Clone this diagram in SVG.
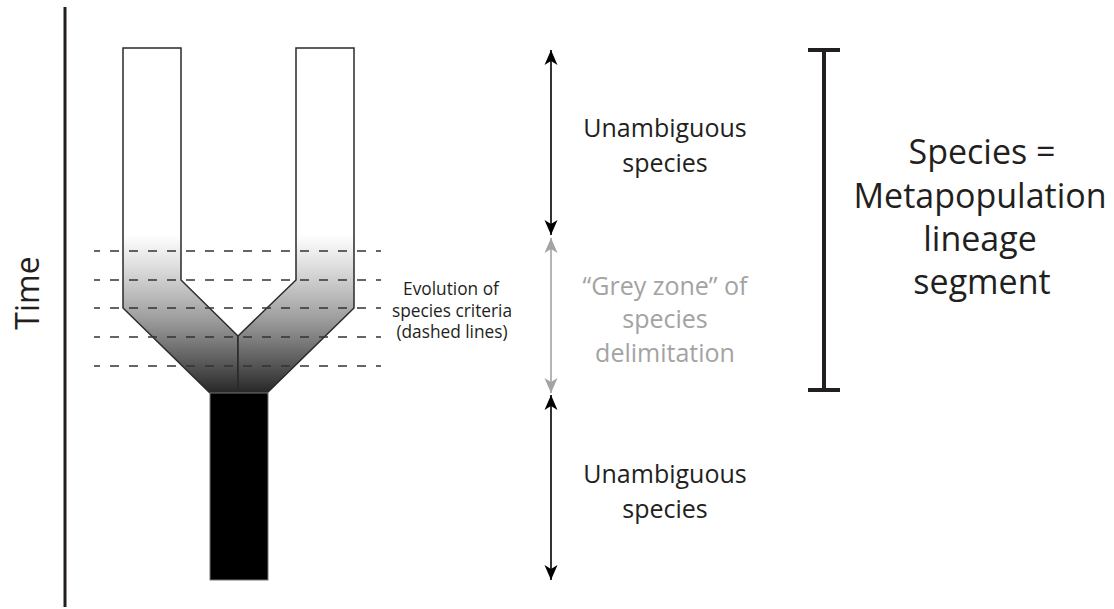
<svg xmlns="http://www.w3.org/2000/svg" width="1114" height="609" viewBox="0 0 1114 609">
  <style>
    .lbl { font-family: "Open Sans", "Noto Sans", sans-serif; fill: #231f20; text-anchor: middle; }
    .grey { fill: #a3a3a3; }
    .branch { fill: url(#shade); stroke: #2a2a2a; stroke-width: 1.5; stroke-linejoin: miter; }
    .dash { stroke: #333; stroke-width: 1.4; stroke-dasharray: 9 10; fill: none; }
  </style>
  <defs>
    <linearGradient id="shade" gradientUnits="userSpaceOnUse" x1="0" y1="234" x2="0" y2="393">
      <stop offset="0" stop-color="#ffffff"/>
      <stop offset="0.17" stop-color="#e4e4e4"/>
      <stop offset="0.35" stop-color="#c2c2c2"/>
      <stop offset="0.54" stop-color="#9c9c9c"/>
      <stop offset="0.72" stop-color="#707070"/>
      <stop offset="0.88" stop-color="#474747"/>
      <stop offset="1" stop-color="#262626"/>
    </linearGradient>
    <marker id="ahB" markerUnits="userSpaceOnUse" markerWidth="16" markerHeight="14" viewBox="0 -7 16 14" refX="15" refY="0" orient="auto-start-reverse">
      <path d="M0,-6.5 L15,0 L0,6.5 L4,0 Z" fill="#000"/>
    </marker>
    <marker id="ahG" markerUnits="userSpaceOnUse" markerWidth="16" markerHeight="14" viewBox="0 -7 16 14" refX="15" refY="0" orient="auto-start-reverse">
      <path d="M0,-6.5 L15,0 L0,6.5 L4,0 Z" fill="#a3a3a3"/>
    </marker>
  </defs>

  <g id="time-axis">
    <line x1="65" y1="7" x2="65" y2="607" stroke="#231f20" stroke-width="3"/>
    <text class="lbl" font-size="32" transform="translate(39,293) rotate(-90)" x="0" y="0">Time</text>
  </g>

  <g id="tree">
    <path id="left-branch" class="branch" d="M123,48 H181 V280 L238,336 V393 H210 L123,308 Z"/>
    <path id="right-branch" class="branch" d="M296,48 H354 V308 L267,393 H238 V336 L296,280 Z"/>
    <rect id="trunk" x="210" y="393" width="58" height="187" fill="#000" stroke="#777" stroke-width="1"/>
  </g>

  <g id="criteria-lines">
    <line class="dash" x1="94" y1="251" x2="381" y2="251" stroke-dashoffset="3"/>
    <line class="dash" x1="94" y1="280" x2="381" y2="280" stroke-dashoffset="3"/>
    <line class="dash" x1="94" y1="308" x2="381" y2="308" stroke-dashoffset="3"/>
    <line class="dash" x1="94" y1="337" x2="381" y2="337" stroke-dashoffset="3"/>
    <line class="dash" x1="94" y1="366" x2="381" y2="366" stroke-dashoffset="3"/>
  </g>

  <g id="criteria-label">
    <text class="lbl" font-size="17.3" x="451" y="295">Evolution of</text>
    <text class="lbl" font-size="17.3" x="452" y="317">species criteria</text>
    <text class="lbl" font-size="17.3" x="452" y="338">(dashed lines)</text>
  </g>

  <g id="connectors">
    <line x1="551" y1="50" x2="551" y2="235" stroke="#000" stroke-width="1.6" marker-start="url(#ahB)" marker-end="url(#ahB)"/>
    <line x1="551" y1="238" x2="551" y2="393" stroke="#a3a3a3" stroke-width="1.6" marker-start="url(#ahG)" marker-end="url(#ahG)"/>
    <line x1="551" y1="395" x2="551" y2="580" stroke="#000" stroke-width="1.6" marker-start="url(#ahB)" marker-end="url(#ahB)"/>
  </g>

  <g id="top-species">
    <text class="lbl" font-size="25" x="665" y="137">Unambiguous</text>
    <text class="lbl" font-size="25" x="665" y="172">species</text>
  </g>

  <g id="grey-zone">
    <text class="lbl grey" font-size="25" x="665" y="295">“Grey zone” of</text>
    <text class="lbl grey" font-size="25" x="665" y="328">species</text>
    <text class="lbl grey" font-size="25" x="665" y="362">delimitation</text>
  </g>

  <g id="bottom-species">
    <text class="lbl" font-size="25" x="665" y="483">Unambiguous</text>
    <text class="lbl" font-size="25" x="665" y="518">species</text>
  </g>

  <g id="bracket">
    <path d="M808,50 H840 M824,50 V390 M808,390 H840" fill="none" stroke="#231f20" stroke-width="4"/>
  </g>

  <g id="definition">
    <text class="lbl" font-size="34" x="982" y="164">Species =</text>
    <text class="lbl" font-size="34" x="980" y="208">Metapopulation</text>
    <text class="lbl" font-size="34" x="980" y="251">lineage</text>
    <text class="lbl" font-size="34" x="982" y="294">segment</text>
  </g>
</svg>
